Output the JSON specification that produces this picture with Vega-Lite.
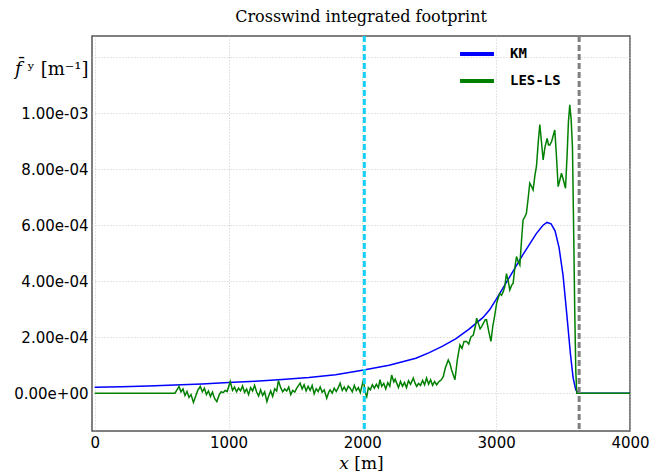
{
  "$schema": "https://vega.github.io/schema/vega-lite/v6.json",
  "width": 538,
  "height": 395,
  "autosize": "none",
  "padding": {"left": 92, "top": 36, "right": 22, "bottom": 40},
  "background": "white",
  "config": {
    "view": {"stroke": "#555555", "strokeWidth": 1.5},
    "axis": {"labelFont": "DejaVu Sans", "labelFontSize": 15, "labelColor": "black", "domain": false, "ticks": false, "gridColor": "#c8c8c8", "gridDash": [1, 2], "gridWidth": 1}
  },
  "title": {"text": "Crosswind integrated footprint", "font": "DejaVu Serif", "fontSize": 16, "fontWeight": "normal", "color": "black", "offset": 10, "anchor": "middle"},
  "datasets": {
    "curves": [
      {"x": 0, "y": 2.1e-5, "s": "KM"}, {"x": 200, "y": 2.3e-5, "s": "KM"}, {"x": 400, "y": 2.6e-5, "s": "KM"}, {"x": 600, "y": 2.9e-5, "s": "KM"}, {"x": 800, "y": 3.3e-5, "s": "KM"}, {"x": 1000, "y": 3.8e-5, "s": "KM"}, {"x": 1200, "y": 4.3e-5, "s": "KM"}, {"x": 1400, "y": 4.9e-5, "s": "KM"}, {"x": 1600, "y": 5.6e-5, "s": "KM"}, {"x": 1800, "y": 6.6e-5, "s": "KM"}, {"x": 2000, "y": 8.2e-5, "s": "KM"}, {"x": 2200, "y": 1.0e-4, "s": "KM"}, {"x": 2400, "y": 1.25e-4, "s": "KM"}, {"x": 2500, "y": 1.45e-4, "s": "KM"}, {"x": 2600, "y": 1.68e-4, "s": "KM"}, {"x": 2700, "y": 1.95e-4, "s": "KM"}, {"x": 2800, "y": 2.3e-4, "s": "KM"}, {"x": 2900, "y": 2.7e-4, "s": "KM"}, {"x": 2950, "y": 2.97e-4, "s": "KM"}, {"x": 3000, "y": 3.35e-4, "s": "KM"}, {"x": 3100, "y": 4.15e-4, "s": "KM"}, {"x": 3200, "y": 4.95e-4, "s": "KM"}, {"x": 3300, "y": 5.7e-4, "s": "KM"}, {"x": 3350, "y": 6.0e-4, "s": "KM"}, {"x": 3380, "y": 6.1e-4, "s": "KM"}, {"x": 3410, "y": 6.05e-4, "s": "KM"}, {"x": 3440, "y": 5.8e-4, "s": "KM"}, {"x": 3470, "y": 5.2e-4, "s": "KM"}, {"x": 3500, "y": 4.2e-4, "s": "KM"}, {"x": 3530, "y": 2.7e-4, "s": "KM"}, {"x": 3555, "y": 1.4e-4, "s": "KM"}, {"x": 3575, "y": 5.5e-5, "s": "KM"}, {"x": 3595, "y": 1.2e-5, "s": "KM"}, {"x": 3615, "y": 1e-6, "s": "KM"}, {"x": 3630, "y": 0, "s": "KM"}, {"x": 4000, "y": 0, "s": "KM"},
      {"x": 0, "y": 0, "s": "LES-LS"}, {"x": 600, "y": 0, "s": "LES-LS"}, {"x": 615, "y": 1.2e-5, "s": "LES-LS"}, {"x": 630, "y": 2.4e-5, "s": "LES-LS"}, {"x": 645, "y": 0.5e-5, "s": "LES-LS"}, {"x": 660, "y": 1.5e-5, "s": "LES-LS"}, {"x": 675, "y": -0.8e-5, "s": "LES-LS"}, {"x": 690, "y": 0.6e-5, "s": "LES-LS"}, {"x": 705, "y": -1.5e-5, "s": "LES-LS"}, {"x": 720, "y": -0.5e-5, "s": "LES-LS"}, {"x": 738, "y": -3.3e-5, "s": "LES-LS"}, {"x": 755, "y": -1.0e-5, "s": "LES-LS"}, {"x": 770, "y": 1.0e-5, "s": "LES-LS"}, {"x": 789, "y": 2.4e-5, "s": "LES-LS"}, {"x": 805, "y": 0.5e-5, "s": "LES-LS"}, {"x": 820, "y": 1.8e-5, "s": "LES-LS"}, {"x": 835, "y": -0.5e-5, "s": "LES-LS"}, {"x": 850, "y": 0.8e-5, "s": "LES-LS"}, {"x": 865, "y": -1.2e-5, "s": "LES-LS"}, {"x": 880, "y": 0.4e-5, "s": "LES-LS"}, {"x": 895, "y": -1.8e-5, "s": "LES-LS"}, {"x": 913, "y": -3.0e-5, "s": "LES-LS"}, {"x": 930, "y": -0.6e-5, "s": "LES-LS"}, {"x": 945, "y": 0.5e-5, "s": "LES-LS"}, {"x": 960, "y": 0.2e-5, "s": "LES-LS"}, {"x": 975, "y": 1.0e-5, "s": "LES-LS"}, {"x": 990, "y": 0.6e-5, "s": "LES-LS"}, {"x": 1013, "y": 4.2e-5, "s": "LES-LS"}, {"x": 1030, "y": 1.0e-5, "s": "LES-LS"}, {"x": 1045, "y": 2.2e-5, "s": "LES-LS"}, {"x": 1060, "y": 0.5e-5, "s": "LES-LS"}, {"x": 1075, "y": 1.8e-5, "s": "LES-LS"}, {"x": 1090, "y": 0.9e-5, "s": "LES-LS"}, {"x": 1105, "y": 2.6e-5, "s": "LES-LS"}, {"x": 1120, "y": 0.3e-5, "s": "LES-LS"}, {"x": 1135, "y": 1.5e-5, "s": "LES-LS"}, {"x": 1150, "y": -0.5e-5, "s": "LES-LS"}, {"x": 1165, "y": 2.0e-5, "s": "LES-LS"}, {"x": 1180, "y": 0.8e-5, "s": "LES-LS"}, {"x": 1195, "y": 2.8e-5, "s": "LES-LS"}, {"x": 1210, "y": 0.4e-5, "s": "LES-LS"}, {"x": 1225, "y": -1.0e-5, "s": "LES-LS"}, {"x": 1240, "y": 1.2e-5, "s": "LES-LS"}, {"x": 1255, "y": -0.8e-5, "s": "LES-LS"}, {"x": 1270, "y": 0.5e-5, "s": "LES-LS"}, {"x": 1287, "y": -3.0e-5, "s": "LES-LS"}, {"x": 1300, "y": -1.0e-5, "s": "LES-LS"}, {"x": 1315, "y": 0.8e-5, "s": "LES-LS"}, {"x": 1330, "y": -1.2e-5, "s": "LES-LS"}, {"x": 1345, "y": 1.6e-5, "s": "LES-LS"}, {"x": 1360, "y": 0.8e-5, "s": "LES-LS"}, {"x": 1373, "y": 4.5e-5, "s": "LES-LS"}, {"x": 1390, "y": 2.0e-5, "s": "LES-LS"}, {"x": 1405, "y": 0.5e-5, "s": "LES-LS"}, {"x": 1420, "y": 1.5e-5, "s": "LES-LS"}, {"x": 1435, "y": 0.8e-5, "s": "LES-LS"}, {"x": 1450, "y": 2.2e-5, "s": "LES-LS"}, {"x": 1465, "y": -0.5e-5, "s": "LES-LS"}, {"x": 1480, "y": 1.0e-5, "s": "LES-LS"}, {"x": 1495, "y": 0.4e-5, "s": "LES-LS"}, {"x": 1510, "y": 1.8e-5, "s": "LES-LS"}, {"x": 1535, "y": 3.6e-5, "s": "LES-LS"}, {"x": 1550, "y": 1.5e-5, "s": "LES-LS"}, {"x": 1565, "y": 3.0e-5, "s": "LES-LS"}, {"x": 1580, "y": 0.8e-5, "s": "LES-LS"}, {"x": 1595, "y": 2.5e-5, "s": "LES-LS"}, {"x": 1610, "y": 1.0e-5, "s": "LES-LS"}, {"x": 1625, "y": 2.8e-5, "s": "LES-LS"}, {"x": 1640, "y": -0.2e-5, "s": "LES-LS"}, {"x": 1655, "y": 1.6e-5, "s": "LES-LS"}, {"x": 1670, "y": 0.6e-5, "s": "LES-LS"}, {"x": 1685, "y": 2.2e-5, "s": "LES-LS"}, {"x": 1700, "y": 0.3e-5, "s": "LES-LS"}, {"x": 1715, "y": 1.2e-5, "s": "LES-LS"}, {"x": 1734, "y": -1.8e-5, "s": "LES-LS"}, {"x": 1750, "y": 0.5e-5, "s": "LES-LS"}, {"x": 1759, "y": 1.2e-5, "s": "LES-LS"}, {"x": 1775, "y": 0.0, "s": "LES-LS"}, {"x": 1790, "y": 1.8e-5, "s": "LES-LS"}, {"x": 1805, "y": 0.6e-5, "s": "LES-LS"}, {"x": 1820, "y": 2.0e-5, "s": "LES-LS"}, {"x": 1834, "y": 3.6e-5, "s": "LES-LS"}, {"x": 1850, "y": 1.0e-5, "s": "LES-LS"}, {"x": 1865, "y": 2.2e-5, "s": "LES-LS"}, {"x": 1880, "y": 0.8e-5, "s": "LES-LS"}, {"x": 1895, "y": 2.5e-5, "s": "LES-LS"}, {"x": 1909, "y": 1.8e-5, "s": "LES-LS"}, {"x": 1925, "y": 0.5e-5, "s": "LES-LS"}, {"x": 1940, "y": 2.8e-5, "s": "LES-LS"}, {"x": 1955, "y": 1.0e-5, "s": "LES-LS"}, {"x": 1970, "y": 2.0e-5, "s": "LES-LS"}, {"x": 1985, "y": 0.2e-5, "s": "LES-LS"}, {"x": 2000, "y": 3.2e-5, "s": "LES-LS"}, {"x": 2008, "y": 4.8e-5, "s": "LES-LS"}, {"x": 2020, "y": 0.5e-5, "s": "LES-LS"}, {"x": 2033, "y": -1.2e-5, "s": "LES-LS"}, {"x": 2045, "y": 2.0e-5, "s": "LES-LS"}, {"x": 2060, "y": 1.2e-5, "s": "LES-LS"}, {"x": 2075, "y": 3.0e-5, "s": "LES-LS"}, {"x": 2090, "y": 1.8e-5, "s": "LES-LS"}, {"x": 2105, "y": 3.2e-5, "s": "LES-LS"}, {"x": 2120, "y": 2.0e-5, "s": "LES-LS"}, {"x": 2132, "y": 4.8e-5, "s": "LES-LS"}, {"x": 2145, "y": 2.5e-5, "s": "LES-LS"}, {"x": 2160, "y": 3.5e-5, "s": "LES-LS"}, {"x": 2175, "y": 1.5e-5, "s": "LES-LS"}, {"x": 2190, "y": 3.8e-5, "s": "LES-LS"}, {"x": 2205, "y": 2.5e-5, "s": "LES-LS"}, {"x": 2219, "y": 6.5e-5, "s": "LES-LS"}, {"x": 2235, "y": 4.0e-5, "s": "LES-LS"}, {"x": 2245, "y": 5.0e-5, "s": "LES-LS"}, {"x": 2257, "y": 3.6e-5, "s": "LES-LS"}, {"x": 2270, "y": 2.0e-5, "s": "LES-LS"}, {"x": 2285, "y": 4.2e-5, "s": "LES-LS"}, {"x": 2300, "y": 2.5e-5, "s": "LES-LS"}, {"x": 2315, "y": 3.8e-5, "s": "LES-LS"}, {"x": 2330, "y": 2.0e-5, "s": "LES-LS"}, {"x": 2345, "y": 4.5e-5, "s": "LES-LS"}, {"x": 2360, "y": 3.2e-5, "s": "LES-LS"}, {"x": 2381, "y": 5.4e-5, "s": "LES-LS"}, {"x": 2395, "y": 3.5e-5, "s": "LES-LS"}, {"x": 2406, "y": 2.4e-5, "s": "LES-LS"}, {"x": 2420, "y": 3.5e-5, "s": "LES-LS"}, {"x": 2435, "y": 2.8e-5, "s": "LES-LS"}, {"x": 2450, "y": 4.6e-5, "s": "LES-LS"}, {"x": 2465, "y": 3.0e-5, "s": "LES-LS"}, {"x": 2480, "y": 5.4e-5, "s": "LES-LS"}, {"x": 2495, "y": 3.2e-5, "s": "LES-LS"}, {"x": 2510, "y": 4.8e-5, "s": "LES-LS"}, {"x": 2525, "y": 2.8e-5, "s": "LES-LS"}, {"x": 2540, "y": 4.2e-5, "s": "LES-LS"}, {"x": 2555, "y": 3.0e-5, "s": "LES-LS"}, {"x": 2570, "y": 4.0e-5, "s": "LES-LS"}, {"x": 2590, "y": 4.8e-5, "s": "LES-LS"}, {"x": 2605, "y": 6.0e-5, "s": "LES-LS"}, {"x": 2620, "y": 9.0e-5, "s": "LES-LS"}, {"x": 2642, "y": 11.9e-5, "s": "LES-LS"}, {"x": 2655, "y": 10.5e-5, "s": "LES-LS"}, {"x": 2667, "y": 8.3e-5, "s": "LES-LS"}, {"x": 2680, "y": 6.5e-5, "s": "LES-LS"}, {"x": 2692, "y": 4.8e-5, "s": "LES-LS"}, {"x": 2710, "y": 12.0e-5, "s": "LES-LS"}, {"x": 2729, "y": 17.3e-5, "s": "LES-LS"}, {"x": 2745, "y": 16.0e-5, "s": "LES-LS"}, {"x": 2760, "y": 18.5e-5, "s": "LES-LS"}, {"x": 2779, "y": 18.5e-5, "s": "LES-LS"}, {"x": 2795, "y": 17.5e-5, "s": "LES-LS"}, {"x": 2810, "y": 20.0e-5, "s": "LES-LS"}, {"x": 2829, "y": 20.8e-5, "s": "LES-LS"}, {"x": 2845, "y": 24.0e-5, "s": "LES-LS"}, {"x": 2854, "y": 26.8e-5, "s": "LES-LS"}, {"x": 2870, "y": 24.5e-5, "s": "LES-LS"}, {"x": 2880, "y": 23.0e-5, "s": "LES-LS"}, {"x": 2891, "y": 23.8e-5, "s": "LES-LS"}, {"x": 2905, "y": 25.0e-5, "s": "LES-LS"}, {"x": 2918, "y": 26.2e-5, "s": "LES-LS"}, {"x": 2928, "y": 26.2e-5, "s": "LES-LS"}, {"x": 2945, "y": 22.0e-5, "s": "LES-LS"}, {"x": 2961, "y": 18.5e-5, "s": "LES-LS"}, {"x": 2975, "y": 24.0e-5, "s": "LES-LS"}, {"x": 2990, "y": 28.0e-5, "s": "LES-LS"}, {"x": 3003, "y": 32.0e-5, "s": "LES-LS"}, {"x": 3015, "y": 34.0e-5, "s": "LES-LS"}, {"x": 3027, "y": 35.6e-5, "s": "LES-LS"}, {"x": 3040, "y": 35.0e-5, "s": "LES-LS"}, {"x": 3052, "y": 36.2e-5, "s": "LES-LS"}, {"x": 3064, "y": 38.0e-5, "s": "LES-LS"}, {"x": 3077, "y": 42.7e-5, "s": "LES-LS"}, {"x": 3090, "y": 40.0e-5, "s": "LES-LS"}, {"x": 3102, "y": 36.9e-5, "s": "LES-LS"}, {"x": 3115, "y": 38.5e-5, "s": "LES-LS"}, {"x": 3127, "y": 39.3e-5, "s": "LES-LS"}, {"x": 3140, "y": 45.0e-5, "s": "LES-LS"}, {"x": 3152, "y": 48.8e-5, "s": "LES-LS"}, {"x": 3165, "y": 47.0e-5, "s": "LES-LS"}, {"x": 3177, "y": 45.8e-5, "s": "LES-LS"}, {"x": 3190, "y": 55.0e-5, "s": "LES-LS"}, {"x": 3201, "y": 61.9e-5, "s": "LES-LS"}, {"x": 3214, "y": 63.0e-5, "s": "LES-LS"}, {"x": 3226, "y": 64.3e-5, "s": "LES-LS"}, {"x": 3240, "y": 70.0e-5, "s": "LES-LS"}, {"x": 3251, "y": 75.0e-5, "s": "LES-LS"}, {"x": 3263, "y": 74.0e-5, "s": "LES-LS"}, {"x": 3276, "y": 72.6e-5, "s": "LES-LS"}, {"x": 3290, "y": 78.0e-5, "s": "LES-LS"}, {"x": 3301, "y": 81.0e-5, "s": "LES-LS"}, {"x": 3315, "y": 90.0e-5, "s": "LES-LS"}, {"x": 3326, "y": 96.0e-5, "s": "LES-LS"}, {"x": 3338, "y": 90.0e-5, "s": "LES-LS"}, {"x": 3351, "y": 83.3e-5, "s": "LES-LS"}, {"x": 3365, "y": 88.0e-5, "s": "LES-LS"}, {"x": 3381, "y": 91.0e-5, "s": "LES-LS"}, {"x": 3391, "y": 88.7e-5, "s": "LES-LS"}, {"x": 3401, "y": 88.7e-5, "s": "LES-LS"}, {"x": 3415, "y": 90.0e-5, "s": "LES-LS"}, {"x": 3426, "y": 92.0e-5, "s": "LES-LS"}, {"x": 3438, "y": 94.0e-5, "s": "LES-LS"}, {"x": 3450, "y": 85.0e-5, "s": "LES-LS"}, {"x": 3463, "y": 73.8e-5, "s": "LES-LS"}, {"x": 3475, "y": 76.0e-5, "s": "LES-LS"}, {"x": 3488, "y": 78.6e-5, "s": "LES-LS"}, {"x": 3503, "y": 76.0e-5, "s": "LES-LS"}, {"x": 3518, "y": 73.2e-5, "s": "LES-LS"}, {"x": 3530, "y": 85.0e-5, "s": "LES-LS"}, {"x": 3540, "y": 97.0e-5, "s": "LES-LS"}, {"x": 3550, "y": 103.0e-5, "s": "LES-LS"}, {"x": 3560, "y": 98.0e-5, "s": "LES-LS"}, {"x": 3570, "y": 88.0e-5, "s": "LES-LS"}, {"x": 3580, "y": 55.0e-5, "s": "LES-LS"}, {"x": 3587, "y": 29.7e-5, "s": "LES-LS"}, {"x": 3595, "y": 8.0e-5, "s": "LES-LS"}, {"x": 3602, "y": 0, "s": "LES-LS"}, {"x": 3700, "y": 0, "s": "LES-LS"}, {"x": 4000, "y": 0, "s": "LES-LS"}
    ],
    "vlines": [
      {"x": 2015, "k": "a"},
      {"x": 3620, "k": "b"}
    ]
  },
  "layer": [
    {
      "data": {"name": "curves"},
      "mark": {"type": "line", "strokeWidth": 1.5, "clip": true},
      "encoding": {
        "x": {"field": "x", "type": "quantitative", "scale": {"domain": [-20, 4000], "nice": false, "zero": false},
          "axis": {"values": [0, 1000, 2000, 3000, 4000], "format": "d", "labelFlush": false, "labelPadding": 4, "title": "𝑥 [m]", "titleFont": "DejaVu Serif", "titleFontSize": 17, "titleFontWeight": "normal", "titleColor": "black", "titleBaseline": "middle", "titleY": 32}},
        "y": {"field": "y", "type": "quantitative", "scale": {"domain": [-0.000135, 0.001276], "nice": false, "zero": false},
          "axis": {"values": [0, 0.0002, 0.0004, 0.0006, 0.0008, 0.001, 0.0012], "labelPadding": 4, "labelFlush": false,
            "labelExpr": "datum.value > 0.0011 ? '' : replace(replace(replace(format(datum.value, '.2e'), 'e-4', 'e-04'), 'e-3', 'e-03'), 'e+0', 'e+00')",
            "title": "𝑓̄ ʸ [m⁻¹]", "titleAngle": 0, "titleAlign": "right", "titleBaseline": "middle", "titleX": -4, "titleY": 33,
            "titleFont": "DejaVu Serif", "titleFontSize": 18, "titleFontWeight": "normal", "titleColor": "black"}},
        "color": {"field": "s", "type": "nominal", "scale": {"domain": ["KM", "LES-LS"], "range": ["#0000ff", "#008000"]},
          "legend": {"title": null, "orient": "none", "legendX": 366, "legendY": -1, "symbolType": "stroke", "symbolSize": 1150, "symbolStrokeWidth": 4, "labelFont": "DejaVu Sans Mono", "labelFontWeight": "bold", "labelFontSize": 14, "labelColor": "black", "labelOffset": 14, "rowPadding": -16}},
        "order": {"field": "x", "type": "quantitative"}
      }
    },
    {
      "data": {"name": "vlines"},
      "mark": {"type": "rule", "strokeWidth": 3, "strokeDash": [6, 3]},
      "encoding": {
        "x": {"field": "x", "type": "quantitative"},
        "color": {"field": "k", "type": "nominal", "scale": {"domain": ["a", "b"], "range": ["#17d0f5", "#808080"]}, "legend": null}
      }
    }
  ],
  "resolve": {"scale": {"color": "independent"}}
}
